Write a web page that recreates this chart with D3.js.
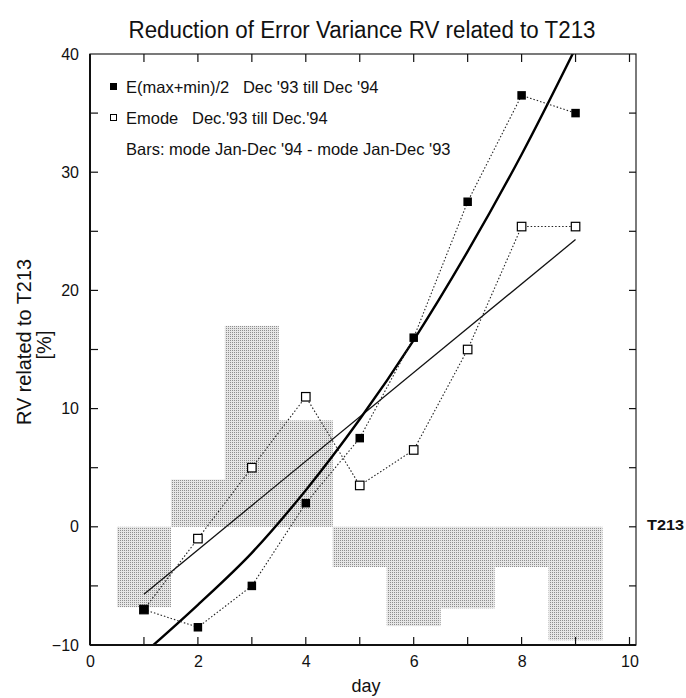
<html lang="en">
<head>
<meta charset="UTF-8">
<title>Reduction of Error Variance</title>
<script src="https://cdn.jsdelivr.net/npm/d3@7"></script>
<style>
  body { margin: 0; background: #fff; }
  text { font-family: "Liberation Sans", Arial, sans-serif; fill: #111; }
</style>
</head>
<body>
<svg id="chart" width="686" height="698"></svg>
<script>
// days 1..9
var days = [1, 2, 3, 4, 5, 6, 7, 8, 9];
// E(max+min)/2  Dec '93 till Dec '94
var eMaxMin = [-7, -8.5, -5, 2, 7.5, 16, 27.5, 36.5, 35];
// Emode  Dec.'93 till Dec.'94
var eMode = [-7, -1, 5, 11, 3.5, 6.5, 15, 25.4, 25.4];
// bars: mode Jan-Dec '94 - mode Jan-Dec '93
var barValues = [-6.8, 4, 17, 9, -3.4, -8.4, -6.9, -3.4, -9.6];
// thin fitted line
var fitLine = [[1, -5.7], [9, 24.3]];
// thick fitted curve
var fitCurve = [[1.1, -10.3], [2, -6.6], [3, -2.2], [4, 3.1], [5, 9.1], [6, 15.8], [7, 23.3], [8, 31.5], [9, 40.5]];
var xTicks = [0, 2, 4, 6, 8, 10];
var yTicks = [-10, 0, 10, 20, 30, 40];

var svg = d3.select("#chart");
var pLeft = 90, pRight = 636, pTop = 54, pBottom = 645;

var x = d3.scaleLinear().domain([0, 10]).range([pLeft, 629.5]);
var y = d3.scaleLinear().domain([-10, 40]).range([pBottom, pTop]);

// stipple pattern for the bars
var defs = svg.append("defs");
var pat = defs.append("pattern").attr("id", "stipple")
    .attr("width", 2).attr("height", 2).attr("patternUnits", "userSpaceOnUse");
pat.append("rect").attr("width", 2).attr("height", 2).attr("fill", "#e6e6e6");
pat.append("rect").attr("width", 1).attr("height", 1).attr("fill", "#8e8e8e");
defs.append("clipPath").attr("id", "plotclip").append("rect")
    .attr("x", pLeft).attr("y", pTop).attr("width", pRight - pLeft).attr("height", pBottom - pTop);

// title
svg.append("text").attr("x", 362).attr("y", 38).attr("text-anchor", "middle")
    .attr("textLength", 467).attr("lengthAdjust", "spacingAndGlyphs")
    .style("font-size", "23px").text("Reduction of Error Variance RV related to T213");

var plot = svg.append("g").attr("clip-path", "url(#plotclip)");

// bars
plot.selectAll("rect.bar").data(days).enter().append("rect")
    .attr("class", "bar")
    .attr("x", function(d) { return x(d - 0.5); })
    .attr("width", function(d) { return x(d + 0.5) - x(d - 0.5); })
    .attr("y", function(d, i) { return y(Math.max(0, barValues[i])); })
    .attr("height", function(d, i) { return Math.abs(y(barValues[i]) - y(0)); })
    .attr("fill", "url(#stipple)");

// fitted line and curve
plot.append("path").datum(fitLine)
    .attr("d", d3.line().x(function(d) { return x(d[0]); }).y(function(d) { return y(d[1]); }))
    .attr("fill", "none").attr("stroke", "#111").attr("stroke-width", 1.3);
plot.append("path").datum(fitCurve)
    .attr("d", d3.line().curve(d3.curveCatmullRom).x(function(d) { return x(d[0]); }).y(function(d) { return y(d[1]); }))
    .attr("fill", "none").attr("stroke", "#000").attr("stroke-width", 2.4);

// dotted series lines
var dotted = d3.line().x(function(d, i) { return x(days[i]); }).y(function(d) { return y(d); });
plot.append("path").datum(eMode).attr("d", dotted)
    .attr("fill", "none").attr("stroke", "#222").attr("stroke-width", 1.1).attr("stroke-dasharray", "1.5,2");
plot.append("path").datum(eMaxMin).attr("d", dotted)
    .attr("fill", "none").attr("stroke", "#222").attr("stroke-width", 1.1).attr("stroke-dasharray", "1.5,2");

// markers
var ms = 8.5;
svg.selectAll("rect.open").data(eMode).enter().append("rect")
    .attr("class", "open")
    .attr("x", function(d, i) { return x(days[i]) - ms / 2; })
    .attr("y", function(d) { return y(d) - ms / 2; })
    .attr("width", ms).attr("height", ms)
    .attr("fill", "#fff").attr("stroke", "#000").attr("stroke-width", 1.2);
svg.selectAll("rect.filled").data(eMaxMin).enter().append("rect")
    .attr("class", "filled")
    .attr("x", function(d, i) { return x(days[i]) - ms / 2; })
    .attr("y", function(d) { return y(d) - ms / 2; })
    .attr("width", ms).attr("height", ms)
    .attr("fill", "#000");

// frame
svg.append("rect").attr("x", pLeft).attr("y", pTop).attr("width", pRight - pLeft).attr("height", pBottom - pTop)
    .attr("fill", "none").attr("stroke", "#222").attr("stroke-width", 1.2);
svg.append("line").attr("x1", pLeft).attr("x2", pLeft).attr("y1", pTop).attr("y2", pBottom)
    .attr("stroke", "#111").attr("stroke-width", 2);
svg.append("line").attr("x1", pLeft).attr("x2", pRight).attr("y1", pBottom).attr("y2", pBottom)
    .attr("stroke", "#111").attr("stroke-width", 2);

// axes: labels from d3 axes, ticks drawn inward below
var xAxis = d3.axisBottom(x).tickValues(xTicks).tickSize(0).tickPadding(11);
svg.append("g").attr("transform", "translate(0," + pBottom + ")").call(xAxis)
    .call(function(g) { g.select(".domain").remove(); })
    .selectAll("text").style("font-size", "16px").style("font-family", "Liberation Sans, Arial, sans-serif").attr("fill", "#111");
var yAxis = d3.axisLeft(y).tickValues(yTicks).tickSize(0).tickPadding(11);
svg.append("g").attr("transform", "translate(" + pLeft + ",0)").call(yAxis)
    .call(function(g) { g.select(".domain").remove(); })
    .selectAll("text").style("font-size", "16px").style("font-family", "Liberation Sans, Arial, sans-serif").attr("fill", "#111");

var dayTicks = d3.range(1, 11);
var halfTicks = d3.range(-5, 40, 5);
var tickLen = 8;
var ticks = svg.append("g").attr("stroke", "#111").attr("stroke-width", 1.2);
ticks.selectAll("line.bt").data(dayTicks).enter().append("line")
    .attr("x1", x).attr("x2", x).attr("y1", pBottom).attr("y2", pBottom - tickLen);
ticks.selectAll("line.tt").data(dayTicks).enter().append("line")
    .attr("x1", x).attr("x2", x).attr("y1", pTop).attr("y2", pTop + tickLen);
ticks.selectAll("line.lt").data(halfTicks).enter().append("line")
    .attr("y1", y).attr("y2", y).attr("x1", pLeft).attr("x2", pLeft + tickLen);
ticks.selectAll("line.rt").data(halfTicks).enter().append("line")
    .attr("y1", y).attr("y2", y).attr("x1", pRight).attr("x2", pRight - 7);

// axis titles
svg.append("text").attr("x", 366).attr("y", 692).attr("text-anchor", "middle")
    .style("font-size", "18px").text("day");
svg.append("text").attr("transform", "translate(31,342) rotate(-90)").attr("text-anchor", "middle")
    .attr("textLength", 166).attr("lengthAdjust", "spacingAndGlyphs")
    .style("font-size", "21px").text("RV related to T213");
svg.append("text").attr("transform", "translate(51,345) rotate(-90)").attr("text-anchor", "middle")
    .style("font-size", "20px").text("[%]");
svg.append("text").attr("x", 647).attr("y", y(0) + 3).style("font-size", "14px")
    .attr("textLength", 37).attr("lengthAdjust", "spacingAndGlyphs")
    .style("font-weight", "bold").text("T213");

// legend
var legend = svg.append("g").style("font-size", "16.5px");
legend.append("rect").attr("x", 110).attr("y", 83).attr("width", 7).attr("height", 7).attr("fill", "#000");
legend.append("text").attr("x", 126).attr("y", 93).attr("xml:space", "preserve")
    .text("E(max+min)/2   Dec '93 till Dec '94");
legend.append("rect").attr("x", 110.5).attr("y", 114.5).attr("width", 6).attr("height", 6)
    .attr("fill", "#fff").attr("stroke", "#000");
legend.append("text").attr("x", 126).attr("y", 124).attr("xml:space", "preserve")
    .text("Emode   Dec.'93 till Dec.'94");
legend.append("text").attr("x", 126).attr("y", 155).text("Bars: mode Jan-Dec '94 - mode Jan-Dec '93");
</script>
</body>
</html>
